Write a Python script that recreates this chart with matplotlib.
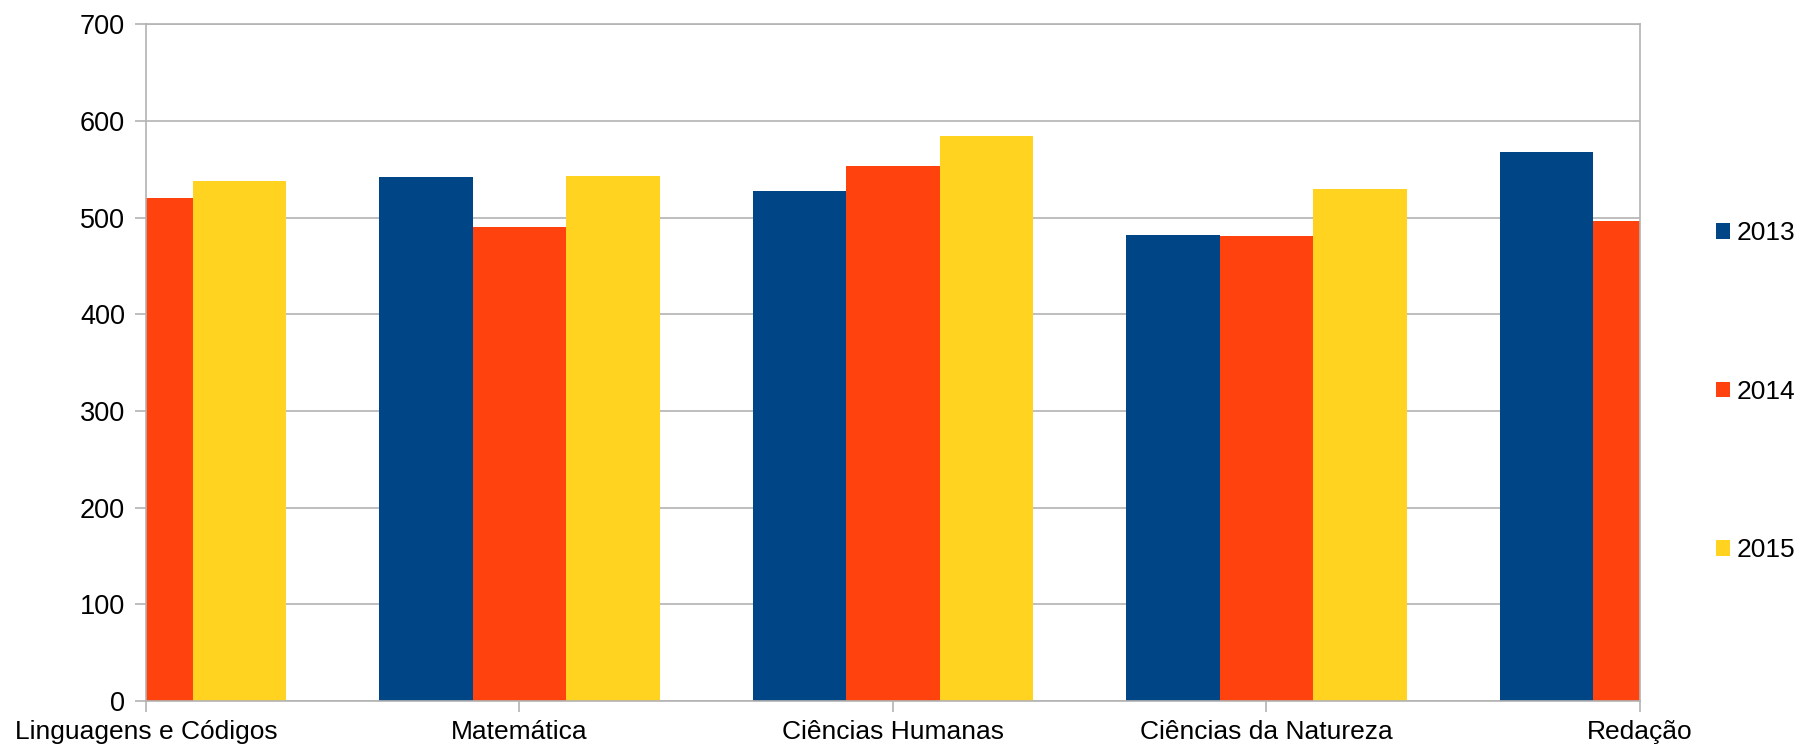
import numpy as np
import matplotlib
matplotlib.use("Agg")
import matplotlib.pyplot as plt

plt.rcParams['font.family'] = ['Liberation Sans', 'DejaVu Sans']

categories = ['Linguagens e Códigos', 'Matemática', 'Ciências Humanas',
              'Ciências da Natureza', 'Redação']
years = ['2013', '2014', '2015']
# first 2013 bar and last 2015 bar fall outside the plot area in the original
vals_2013 = [np.nan, 542, 528, 482, 568]
vals_2014 = [520, 490, 553, 481, 497]
vals_2015 = [538, 543, 584, 530, np.nan]
colors = ['#004586', '#ff420e', '#ffd320']

fig = plt.figure(figsize=(17.98, 7.47), dpi=100)
ax = fig.add_axes([0.0812, 0.0616, 0.8309, 0.9059])

x = np.arange(len(categories))
w = 0.25
for i, (vals, lab) in enumerate(zip([vals_2013, vals_2014, vals_2015], years)):
    ax.bar(x + (i - 1) * w, vals, width=w, color=colors[i], label=lab, zorder=2)

ax.set_xlim(0, len(categories) - 1)
ax.set_ylim(0, 700)
ax.set_yticks(range(0, 701, 100))
ax.set_xticks(x)
ax.set_xticklabels(categories)
ax.grid(axis='y', color='#b3b3b3', linewidth=1.2, zorder=0)
for s in ax.spines.values():
    s.set_color('#b3b3b3')
    s.set_linewidth(1.2)
ax.tick_params(axis='both', colors='#b3b3b3', labelcolor='black',
               length=8, width=1.2)
ax.tick_params(axis='y', pad=7, labelsize=19.5)
ax.tick_params(axis='x', pad=6, labelsize=19)

ax.legend(loc='center left', bbox_to_anchor=(1.051, 0.457), frameon=False,
          fontsize=19, labelspacing=5.1, handlelength=0.53, handleheight=0.53,
          handletextpad=0.25, borderpad=0, borderaxespad=0)

fig.savefig('out.png', dpi=100)
